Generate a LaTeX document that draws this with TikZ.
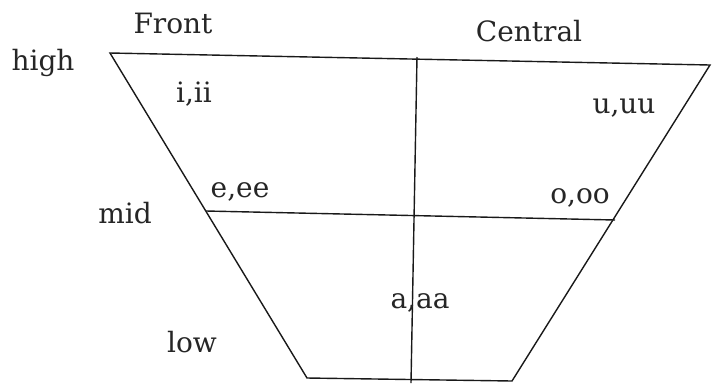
\documentclass[tikz,border=0pt]{standalone}
\usepackage{fontspec}
\setmainfont{DejaVu Serif}
\begin{document}
\begin{tikzpicture}[x=1pt,y=-1pt,
  edge/.style={draw=black!90,line width=1.4pt},
  lbl/.style={anchor=base,inner sep=0pt,font=\fontsize{28}{31}\selectfont,text=black!85}]
\useasboundingbox (0,0) rectangle (712,384);
% corners of the chart
\coordinate (TL) at (110,53);
\coordinate (TR) at (710,65);
\coordinate (BR) at (512,381);
\coordinate (BL) at (307,378);
\coordinate (VT) at (417,57);
\coordinate (VB) at (411,383);
\coordinate (ML) at (206,211);
\coordinate (MR) at (615,220);
\draw[edge,line join=miter] (TL) -- (TR) -- (BR) -- (BL) -- cycle;
\draw[edge] (VT) -- (VB);
\draw[edge] (ML) -- (MR);
% labels
\node[lbl] (front) at (173,33) {Front};
\node[lbl] (central) at (529,41) {Central};
\node[lbl] (high) at (43,70) {high};
\node[lbl] (mid) at (125,223) {mid};
\node[lbl] (low) at (192,352) {low};
\node[lbl] (i) at (194,102) {i,ii};
\node[lbl] (u) at (624,113) {u,uu};
\node[lbl] (e) at (240,197) {e,ee};
\node[lbl] (o) at (580,203) {o,oo};
\node[lbl] (a) at (420,308) {a,aa};
\end{tikzpicture}
\end{document}
